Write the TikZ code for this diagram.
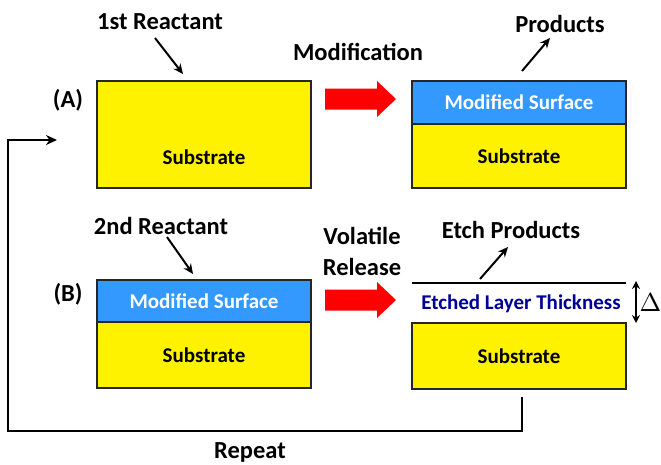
\documentclass[tikz,border=0pt]{standalone}
\usepackage{fontspec}
\setmainfont{Carlito}
\usetikzlibrary{arrows.meta}
\definecolor{surfblue}{RGB}{51,153,255}
\definecolor{etchblue}{RGB}{0,0,150}
\begin{document}
\begin{tikzpicture}[
		x=1pt, y=-1pt,
		font=\bfseries\fontsize{21}{25}\selectfont,
		layer/.style={rectangle, draw=black!85, line width=1.5pt, minimum width=214pt, inner sep=0pt},
		substrate node/.style={layer, fill=yellow},
		surface node/.style={layer, fill=surfblue, text=white},
		label node/.style={font=\bfseries\fontsize{24.5}{31}\selectfont, inner sep=0pt},
		thin arrow/.style={-{Stealth[length=10pt,width=9pt]}, line width=2pt},
		loop arrow/.style={-{Stealth[length=11pt,width=10pt]}, line width=2.8pt},
		block arrow/.style={fill=red, draw=none}
	]
		\useasboundingbox (0,0) rectangle (661,464);

		\node[substrate node, minimum height=107pt] (subA) at (204,134.5) {};
		\node (subAtext) at (204,157) {Substrate};

		\node[surface node, minimum height=43pt] (surfA) at (519,102.5) {Modified Surface};
		\node[substrate node, minimum height=64pt, below of=surfA, node distance=53.5pt] (subA2) {Substrate};

		\node[surface node, minimum height=42pt] (surfB) at (204,301) {Modified Surface};
		\node[substrate node, minimum height=66pt, below of=surfB, node distance=54pt] (subB) {Substrate};

		\node[substrate node, minimum height=66pt] (subB2) at (519,356) {Substrate};
		\node[text=etchblue] (etch) at (521,304) {Etched Layer Thickness};

		\node[label node] (labA) at (68,100) {(A)};
		\node[label node] (labB) at (68,294) {(B)};
		\node[label node] (react1) at (160,22) {1st Reactant};
		\node[label node] (react2) at (161,226) {2nd Reactant};
		\node[label node] (modif) at (358,52) {Modification};
		\node[label node] (prod) at (560,24) {Products};
		\node[label node, align=center] (volat) at (362,251) {Volatile\\Release};
		\node[label node] (etchprod) at (511,230) {Etch Products};
		\node[label node] (repeat) at (250,452) {Repeat};
		\node[font=\fontsize{10}{12}\selectfont, inner sep=0pt] (delta) at (650.5,303) {\scalebox{2.6}{$\Delta$}};

		\coordinate (r1s) at (155,38);
		\coordinate (r1e) at (183,74);
		\coordinate (r2s) at (167,237);
		\coordinate (r2e) at (193,274);
		\coordinate (p1s) at (522,71);
		\coordinate (p1e) at (550,38);
		\coordinate (p2s) at (480,279);
		\coordinate (p2e) at (508,247);
		\coordinate (etchL) at (412,283);
		\coordinate (etchR) at (626,283);
		\coordinate (dTop) at (636,281);
		\coordinate (dBot) at (636,323);
		\coordinate (loopS) at (522,397);
		\coordinate (loopB) at (8,431);
		\coordinate (loopT) at (8,140);
		\coordinate (loopE) at (57,140);

		\draw[thin arrow] (r1s) -- (r1e);
		\draw[thin arrow] (r2s) -- (r2e);
		\draw[thin arrow] (p1s) -- (p1e);
		\draw[thin arrow] (p2s) -- (p2e);

		\foreach \y in {99,300} {
			\path[block arrow] (325,\y-10.5) -- (377,\y-10.5) -- (377,\y-18) -- (396,\y)
				-- (377,\y+18) -- (377,\y+10.5) -- (325,\y+10.5) -- cycle;
		}

		\draw[line width=1.8pt] (etchL) -- (etchR);
		\draw[{Stealth[length=8pt,width=8pt]}-{Stealth[length=8pt,width=8pt]}, line width=2.2pt] (dTop) -- (dBot);

		\draw[loop arrow] (loopS) |- (loopB) -- (loopT) -- (loopE);

	\end{tikzpicture}
\end{document}
